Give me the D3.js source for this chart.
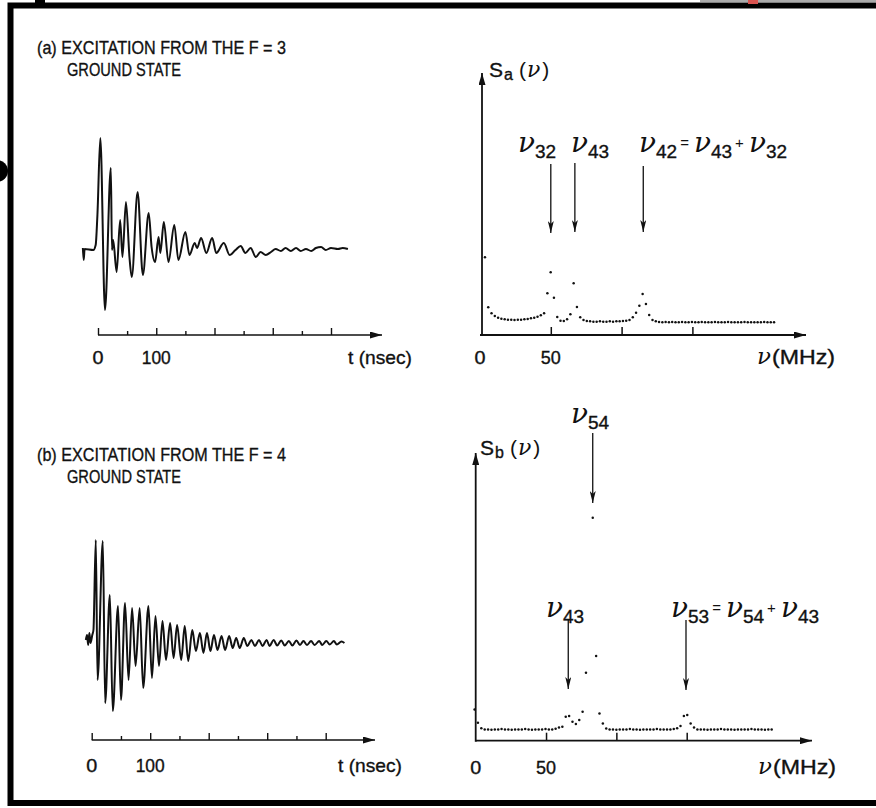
<!DOCTYPE html>
<html><head><meta charset="utf-8">
<script src="https://cdn.jsdelivr.net/npm/d3@7/dist/d3.min.js"></script>
<style>body{margin:0;background:#fff}svg{display:block}</style>
</head><body>
<svg id="c" width="876" height="808"></svg>
<script>
// ---------------- DATA ----------------
// (a) time trace, excitation from F=3 : time (ns) and signal (arb. units)
const traceA_t = [-26,-24.5,-23,-8,-4,-1,4,12,22,24,26,32,38,42,48,54,58,68,77,87,92,98,104,107,113,121,131,138,150,157,166,170,177,186,196,203,216,226,236,245,253,262,271,279,288,297,305,314,322,331,340,348,357,366,374,383,391,400,412,420,429];
const traceA_v = [1,-11,0,-1,4,34,111,-61,81,-1,9,-23,29,-8,47,-8,-28,57,-26,36,2,-13,12,-4,27,-13,24,-11,17,-6,6,1,11,-4,11,-4,6,-6,-1,3,-4,1,-8,-3,-6,-3,0,-2,1,-2,1,-2,0,-2,1,2,-1,1,0,1,0];
// (b) time trace, excitation from F=4
const traceB_t = [-10,-8,-6,-4,-2,1,3,7,10,19,23,31,36,45,50,57,63,69,75,82,88,97,103,109,115,121,127,134,140,146,153,159,165,172,178,185,191,197,203,209,215,222,228,235,241,247,253,260,266,273,279,286,292,299,304,311,317,324,330,337,343,350,356,362,368,375,381,389,394,401,407,414,419,427,432];
const traceB_v = [3,8,-2,10,0,8,13,103,-37,102,-60,48,-68,37,-57,40,-37,35,-23,35,-45,37,-35,27,-23,22,-17,20,-15,18,-17,17,-18,13,-8,10,-10,10,-8,8,-7,7,-7,7,-5,5,-5,5,-3,3,-3,3,-3,3,-3,3,-2.5,2.5,-2.5,2,-2.5,2.5,-2,2,-2,2,-2,2,-2,2,-1.5,2,-1.5,1.5,0];

// Fourier spectra: sampled on an even frequency grid (MHz)
const specA_start = 3.5, specA_step = 2.32;
const specA = [77.7,27.7,21.7,19,17.3,16.3,15.7,15.3,15.3,15,
  15.3,15.3,15.7,16,16.7,17.3,18.3,19.7,21.7,41.7,
  62.7,37.3,18,14.3,14,15.7,20.7,51.7,28,17.7,
  15,14,13.7,13.3,13.3,13.7,13.3,13.3,13.7,13.3,
  13.7,13.7,14,14.3,15,17.7,22.3,29.3,41,31,
  20,15,13.7,13,12.7,13,12.7,13,12.7,12.7,
  13,12.7,12.7,13,12.7,12.7,13,12.7,12.7,12.7,
  13,12.7,12.7,12.7,13,12.7,12.7,12.7,12.7,13,
  12.7,12.7,12.7,12.7,12.7,13,12.7,12.7,12.7];
const specB_start = -0.8, specB_step = 2.4;
const specB = [31.3,18,12.5,11.3,11.3,11,11.3,11.3,11.7,11.3,
  11.3,11,11.3,11.3,11.3,11.7,11.3,11,11.3,11.3,
  11.3,11.7,11.3,11.3,12,13.3,14,24,24.7,19,
  16.7,20.7,29,68,null,223,84.7,27.3,17.3,12.3,
  11.3,11.3,11,11.3,11.3,11.3,11.7,11.3,11.3,11,
  11.3,11.3,11.3,11.3,11.7,11.3,11.3,11.3,11.3,11.7,
  12.5,14.7,24.7,25.7,17.3,13.3,11.3,11.3,11.3,11,
  11.3,11.3,11.3,11.7,11.3,11.3,11.3,11,11.3,11.3,
  11.3,11.3,11.7,11.3,11.3,11.3,11,11.3,11.3];

const timeTicks = [0,50,100,150,200,250,300,350,400];
const timeTickLabels = [0,100];
const freqTicks = [50,100,150];
const freqTickLabels = [0,50];

// beat-frequency annotations (MHz)
const annotA = [{f:50, label:[["32"]]},{f:67, label:[["43"]]},{f:115.3, label:[["42"],"=",["43"],"+",["32"]]}];
const annotB = [{f:65.8, label:[["43"]]},{f:83.2, label:[["54"]]},{f:149.5, label:[["53"],"=",["54"],"+",["43"]]}];

// ---------------- DRAWING ----------------
const SANS = "'Liberation Sans', Arial, sans-serif";
const SERIF = "'DejaVu Serif', 'Liberation Serif', serif";
const INK = "#111";
const svg = d3.select('#c');
const defs = svg.append('defs');
defs.append('marker').attr('id','axh').attr('viewBox','0 0 12 7').attr('refX',12).attr('refY',3.5)
  .attr('markerWidth',12).attr('markerHeight',7).attr('markerUnits','userSpaceOnUse').attr('orient','auto')
  .append('path').attr('d','M0,0L12,3.5L0,7Z').attr('fill',INK);
defs.append('marker').attr('id','anh').attr('viewBox','0 0 6 12').attr('refX',3).attr('refY',12)
  .attr('markerWidth',6).attr('markerHeight',12).attr('markerUnits','userSpaceOnUse').attr('orient','0')
  .append('path').attr('d','M0,0L3,12L6,0L3,3Z').attr('fill',INK);

// frame & scan edges
svg.append('rect').attr('x',10.5).attr('y',5.5).attr('width',900).attr('height',797.5)
  .attr('fill','none').attr('stroke','#000').attr('stroke-width',6);
svg.append('circle').attr('cx',-3).attr('cy',171).attr('r',11).attr('fill','#000');
svg.append('rect').attr('x',35).attr('y',0).attr('width',10).attr('height',4).attr('fill','#000');
svg.append('line').attr('x1',700).attr('x2',876).attr('y1',1).attr('y2',1).attr('stroke','#555').attr('stroke-width',1);
svg.append('rect').attr('x',748).attr('y',0).attr('width',10).attr('height',4).attr('fill','#d9534f');

function txt(g, x, y, s, o={}) {
  const t = g.append('text').attr('x',x).attr('y',y).text(s)
    .attr('font-family', o.family||SANS).attr('font-size', o.size||18).attr('fill',INK)
    .attr('stroke',INK).attr('stroke-width',0.35)
    .attr('text-anchor', o.anchor||'start');
  if (o.style) t.attr('font-style', o.style);
  if (o.len) t.attr('textLength', o.len).attr('lengthAdjust','spacingAndGlyphs');
  return t;
}
function nuLabel(g, x, y, tokens) {
  const t = g.append('text').attr('x',x).attr('y',y).attr('fill',INK);
  let pending = 0;
  tokens.forEach(tok => {
    if (Array.isArray(tok)) {
      t.append('tspan').text('ν').attr('font-family',SERIF).attr('font-style','italic')
        .attr('font-size',28).attr('dy',pending).attr('dx', pending ? 5 : 0);
      t.append('tspan').text(tok[0]).attr('font-family',SANS).attr('font-size',19).attr('dy',6).attr('dx',0)
        .attr('stroke',INK).attr('stroke-width',0.35);
      pending = -6;
    } else {
      t.append('tspan').text(tok).attr('font-family',SANS).attr('font-size',15)
        .attr('dy',pending-4).attr('dx',3);
      pending = 4;
    }
  });
  return t;
}

// ---------- time-trace panels ----------
function timePanel(cfg) {
  const g = svg.append('g');
  const x = d3.scaleLinear().domain([0,400]).range(cfg.xr);
  const y = d3.scaleLinear().domain([-100,100]).range([cfg.base+100, cfg.base-100]);
  const pts = cfg.t.map((t,i)=>[t, cfg.v[i]]);
  g.append('path').datum(pts).attr('fill','none').attr('stroke',INK).attr('stroke-width',2)
    .attr('stroke-linejoin','round')
    .attr('d', d3.line().x(d=>x(d[0])).y(d=>y(d[1])).curve(d3.curveMonotoneX));
  // axis
  g.append('line').attr('x1',x(0)).attr('x2',cfg.arrowX).attr('y1',cfg.axisY).attr('y2',cfg.axisY)
    .attr('stroke',INK).attr('stroke-width',1.6).attr('marker-end','url(#axh)');
  const major = timeTicks.filter(v=>v%100===0), minor = timeTicks.filter(v=>v%100!==0);
  const ax1 = g.append('g').attr('transform',`translate(0,${cfg.axisY})`)
    .call(d3.axisTop(x).tickValues(major).tickSize(7).tickFormat(''));
  const ax2 = g.append('g').attr('transform',`translate(0,${cfg.axisY})`)
    .call(d3.axisTop(x).tickValues(minor).tickSize(4).tickFormat(''));
  [ax1,ax2].forEach(a=>{a.select('.domain').remove(); a.selectAll('line').attr('stroke',INK).attr('stroke-width',1.4);});
  timeTickLabels.forEach(v=>txt(g, x(v), cfg.labY, String(v), {anchor:'middle', size:18, len: v===0?11:29}));
  txt(g, cfg.unitX, cfg.labY, 't (nsec)', {size:19, len:64});
  // title
  txt(g, 37, cfg.titleY, cfg.title, {size:19, len:249});
  txt(g, 67, cfg.titleY+22, 'GROUND STATE', {size:19, len:114});
}
timePanel({t:traceA_t, v:traceA_v, xr:[98,331], base:249, axisY:335, arrowX:382, labY:364, unitX:348,
  titleY:54, title:'(a) EXCITATION FROM THE F = 3'});
timePanel({t:traceB_t, v:traceB_v, xr:[91.7,325.7], base:643, axisY:740, arrowX:375, labY:772, unitX:338,
  titleY:461, title:'(b) EXCITATION FROM THE F = 4'});

// ---------- spectrum panels ----------
function specPanel(cfg) {
  const g = svg.append('g');
  const x = d3.scaleLinear().domain([0,150]).range(cfg.xr);
  const y = d3.scaleLinear().domain([0,cfg.ymax]).range([cfg.axisY, cfg.topY]);
  const pts = cfg.vals.map((v,i)=>({f: cfg.start + i*cfg.step, v})).filter(d=>d.v!==null);
  g.selectAll('circle.pt').data(pts).join('circle').attr('class','pt')
    .attr('cx',d=>x(d.f)).attr('cy',d=>y(d.v)).attr('r',1.25).attr('fill',INK);
  // axes
  g.append('line').attr('x1',x(0)).attr('x2',cfg.arrowX).attr('y1',cfg.axisY).attr('y2',cfg.axisY)
    .attr('stroke',INK).attr('stroke-width',1.8).attr('marker-end','url(#axh)');
  g.append('line').attr('x1',x(0)+cfg.yOff).attr('x2',x(0)+cfg.yOff).attr('y1',cfg.axisY+1).attr('y2',cfg.topY)
    .attr('stroke',INK).attr('stroke-width',1.8).attr('marker-end','url(#axh)');
  const ax = g.append('g').attr('transform',`translate(0,${cfg.axisY})`)
    .call(d3.axisTop(x).tickValues(freqTicks).tickSize(8).tickFormat(''));
  ax.select('.domain').remove(); ax.selectAll('line').attr('stroke',INK).attr('stroke-width',1.5);
  freqTickLabels.forEach(v=>txt(g, x(v), cfg.labY, String(v), {anchor:'middle', size:18, len: v===0?11:20}));
  g.append('text').attr('x',cfg.unitX).attr('y',cfg.labY).attr('fill',INK).text('ν')
    .attr('font-family',SERIF).attr('font-style','italic').attr('font-size',23);
  txt(g, cfg.unitX+15, cfg.labY, '(MHz)', {size:20, len:63});
  // S(ν) label
  const s = g.append('text').attr('x',cfg.sX).attr('y',cfg.sY).attr('fill',INK);
  s.append('tspan').text('S').attr('font-family',SANS).attr('font-size',21).attr('stroke',INK).attr('stroke-width',0.35);
  s.append('tspan').text(cfg.sub).attr('font-family',SANS).attr('font-size',16).attr('dy',3).attr('dx',1).attr('stroke',INK).attr('stroke-width',0.35);
  s.append('tspan').text('(').attr('font-family',SANS).attr('font-size',21).attr('dy',-3).attr('dx',6);
  s.append('tspan').text('ν').attr('font-family',SERIF).attr('font-style','italic').attr('font-size',22).attr('dx',1);
  s.append('tspan').text(')').attr('font-family',SANS).attr('font-size',21).attr('dx',2);
  // annotations
  cfg.annot.forEach((a,i)=>{
    const ax0 = x(a.f);
    g.append('line').attr('x1',ax0).attr('x2',ax0).attr('y1',cfg.arr[i][0]).attr('y2',cfg.arr[i][1])
      .attr('stroke',INK).attr('stroke-width',1.3).attr('marker-end','url(#anh)');
    nuLabel(g, cfg.lab[i][0], cfg.lab[i][1], a.label);
  });
}
specPanel({vals:specA, start:specA_start, step:specA_step, xr:[480,692.4], axisY:335, topY:73, ymax:262,
  arrowX:806, yOff:2, labY:364, unitX:757, sX:489, sY:77, sub:'a', annot:annotA,
  arr:[[164,233],[163,232],[166,232]], lab:[[518,152],[571,152],[639,152]]});
specPanel({vals:specB, start:specB_start, step:specB_step, xr:[475.7,686.7], axisY:740.7, topY:453, ymax:287.7,
  arrowX:812, yOff:0, labY:774, unitX:758, sX:480, sY:455, sub:'b', annot:annotB,
  arr:[[620,689],[433,503],[620,690]], lab:[[546,617],[571,423],[671,617]]});
</script>
</body></html>
